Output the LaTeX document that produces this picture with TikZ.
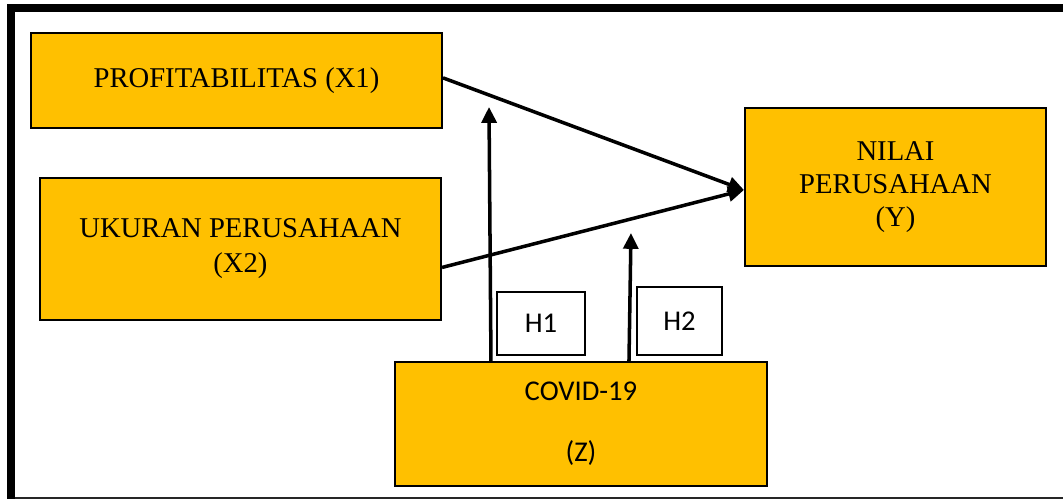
\documentclass[tikz,border=0pt]{standalone}
\usepackage{fontspec}
\setmainfont{Liberation Serif}
\newfontfamily\calibri{Carlito}
\usetikzlibrary{arrows.meta,calc}
\definecolor{gold}{HTML}{FFC000}
\tikzset{
  varbox/.style={draw=black, line width=1.2pt, fill=gold, inner sep=0pt, align=center,
    font=\fontsize{16.3}{19.9}\selectfont},
  hbox/.style={draw=black, line width=1.2pt, fill=white, inner sep=0pt,
    font=\calibri\fontsize{16.3}{18}\selectfont},
  link/.style={line width=2pt, -{Triangle[length=9pt,width=8.5pt]}}
}
\begin{document}
\begin{tikzpicture}[x=0.02cm, y=-0.02cm]
  \useasboundingbox (0,0) rectangle (1063,501);
  % outer frame
  \fill[black] (7,4) rectangle (1063,12.3);
  \fill[black] (7,4) rectangle (15,499);
  \fill[black!85] (15,497) rectangle (1063,499.2);

  % variables
  \node[varbox, minimum width=8.22cm, minimum height=1.9cm] (x1) at (236.5,80.5)
    {PROFITABILITAS (X1)};
  \node[varbox, minimum width=8.02cm, minimum height=2.84cm] (x2) at (240.5,249)
    {UKURAN PERUSAHAAN\\(X2)};
  \node[varbox, minimum width=6.02cm, minimum height=3.16cm,
        font=\fontsize{16.3}{18.6}\selectfont] (y) at (895.5,187)
    {NILAI\\PERUSAHAAN\\(Y)};
  \node[varbox, minimum width=7.44cm, minimum height=2.48cm,
        font=\calibri\fontsize{16.3}{34.7}\selectfont] (z) at (581,424)
    {COVID-19\\(Z)};

  % hypothesis labels
  \node[hbox, minimum width=1.76cm, minimum height=1.26cm] (h1) at (541,323.5) {H1};
  \node[hbox, minimum width=1.7cm, minimum height=1.36cm] (h2) at (679.5,321) {H2};

  % direct effects
  \draw[link] ([yshift=1.5pt]x1.east) -- ([yshift=-1.7pt]y.west);
  \draw[link] ([yshift=-10.5pt]x2.east) -- ([yshift=-1.7pt]y.west);

  % moderating effects
  \coordinate (m1) at (489,107);
  \coordinate (m2) at (631,233);
  \draw[link] ($(z.north west)+(97,0)$) -- (m1);
  \draw[link] ($(z.north west)+(235,0)$) -- (m2);
\end{tikzpicture}
\end{document}
